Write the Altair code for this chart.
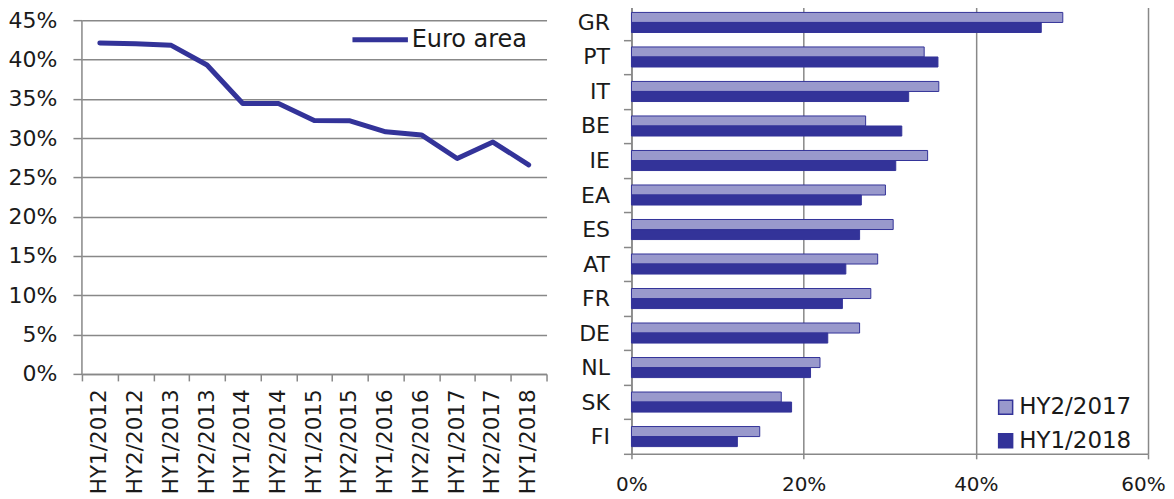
import altair as alt
import pandas as pd

# ---------------- data ----------------
periods = ["HY1/2012", "HY2/2012", "HY1/2013", "HY2/2013", "HY1/2014", "HY2/2014",
           "HY1/2015", "HY2/2015", "HY1/2016", "HY2/2016", "HY1/2017", "HY2/2017", "HY1/2018"]
euro_area = [42.1, 42.0, 41.8, 39.3, 34.4, 34.4, 32.25, 32.2, 30.8, 30.4, 27.4, 29.5, 26.6]
line_series = "Euro area"

countries = ["GR", "PT", "IT", "BE", "IE", "EA", "ES", "AT", "FR", "DE", "NL", "SK", "FI"]
hy2_2017 = [50.1, 34.0, 35.7, 27.2, 34.4, 29.5, 30.4, 28.6, 27.8, 26.5, 21.9, 17.4, 14.9]
hy1_2018 = [47.6, 35.6, 32.2, 31.4, 30.7, 26.7, 26.5, 24.9, 24.5, 22.8, 20.8, 18.6, 12.3]
bar_series = ["HY2/2017", "HY1/2018"]

left_ticks = [0, 5, 10, 15, 20, 25, 30, 35, 40, 45]
right_ticks = [0, 20, 40, 60]

# ---------------- style ----------------
NAVY = "#333399"
LIGHT = "#9999cc"
GRID = "#888888"
TEXT = "#1a1a1a"
FONT = "DejaVu Sans"

line_df = pd.DataFrame({"period": periods, "value": euro_area, "series": line_series})
rule_df = pd.DataFrame({"k": [0]})

rows = []
for c, a, b in zip(countries, hy2_2017, hy1_2018):
    rows.append({"country": c, "series": bar_series[0], "value": a})
    rows.append({"country": c, "series": bar_series[1], "value": b})
bar_df = pd.DataFrame(rows)

# ---------------- left panel ----------------
L_W, L_H = 465, 369
ymax = 45 * L_H / 354.0

x_left = alt.X(
    "period:N", sort=periods, title=None, bandPosition=0.5,
    scale=alt.Scale(type="band", paddingInner=0, paddingOuter=0),
    axis=alt.Axis(labelAngle=270, labelFontSize=21.5, tickBand="extent", tickSize=7,
                  labelPadding=8, grid=False),
)
y_left = alt.Y(
    "value:Q", title=None,
    scale=alt.Scale(domain=[0, ymax], nice=False, zero=True),
    axis=alt.Axis(values=left_ticks, labelExpr="datum.value + '%'", domain=False,
                  tickSize=9, labelPadding=16, grid=True, labelFontSize=22,
                  minExtent=74, maxExtent=74),
)

line = alt.Chart(line_df).mark_line(strokeWidth=5, strokeJoin="round", strokeCap="round").encode(
    x=x_left, y=y_left,
    color=alt.Color("series:N", scale=alt.Scale(domain=[line_series], range=[NAVY]),
                    legend=alt.Legend(orient="none", legendX=268, legendY=4, title=None,
                                      symbolType="stroke", symbolSize=3080, symbolStrokeWidth=5,
                                      labelFontSize=24, labelOffset=1, padding=0)),
)
axis_rule = alt.Chart(rule_df).mark_rule(color=GRID, strokeWidth=1.5).encode(
    x=alt.value(0), y=alt.datum(0), y2=alt.datum(45)
)
left = alt.layer(line, axis_rule).properties(width=L_W, height=L_H)

# ---------------- right panel ----------------
R_W, R_H = 517, 449

bars = alt.Chart(bar_df).mark_bar(strokeWidth=1).encode(
    x=alt.X("value:Q", title=None,
            scale=alt.Scale(domain=[0, 60], nice=False),
            axis=alt.Axis(values=right_ticks, labelExpr="datum.value + '%'", tickSize=5,
                          labelPadding=16, grid=True, labelFontSize=20, labelFlush=False,
                          labelOffset={"condition": {"test": "datum.value == 60", "value": -5},
                                       "value": 0})),
    y=alt.Y("country:N", sort=countries, title=None,
            scale=alt.Scale(paddingInner=0, paddingOuter=0),
            axis=alt.Axis(tickBand="extent", tickSize=8, labelPadding=14, grid=False,
                          labelFontSize=22, minExtent=55, maxExtent=55)),
    yOffset=alt.YOffset("series:N", sort=bar_series,
                        scale=alt.Scale(domain=bar_series, paddingInner=0, paddingOuter=0.72)),
    color=alt.Color("series:N", sort=bar_series,
                    scale=alt.Scale(domain=bar_series, range=[LIGHT, NAVY]),
                    legend=alt.Legend(orient="none", legendX=363, legendY=391, title=None,
                                      symbolType="square", symbolSize=196,
                                      symbolStrokeColor=NAVY, symbolStrokeWidth=1.5,
                                      labelFontSize=23, labelOffset=2, rowPadding=9.5,
                                      padding=0)),
    stroke=alt.value(NAVY),
).properties(width=R_W, height=R_H)

chart = alt.hconcat(left, bars, spacing=29).resolve_scale(
    color="independent"
).resolve_legend(
    color="independent"
).properties(
    padding={"left": 0, "top": -14, "right": 0, "bottom": 0}
).configure_axis(
    labelFont=FONT, labelColor=TEXT, gridColor=GRID, gridWidth=1.5,
    domainColor=GRID, domainWidth=1.5, tickColor=GRID, tickWidth=1.5,
).configure_legend(
    labelFont=FONT, labelColor=TEXT,
).configure_view(stroke=None)

chart.save("out.html", embed_options={"renderer": "svg", "actions": False})
